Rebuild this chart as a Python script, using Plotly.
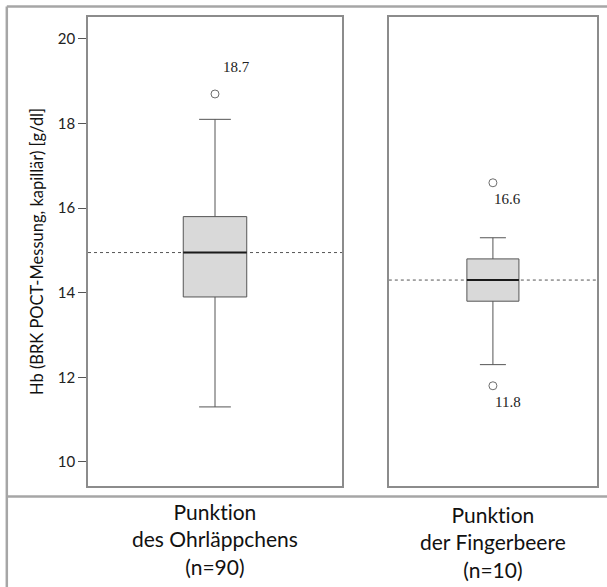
import plotly.graph_objects as go

# ---- data ----
categories = ["Punktion<br>des Ohrläppchens<br>(n=90)", "Punktion<br>der Fingerbeere<br>(n=10)"]
q1 = [13.9, 13.8]
median = [14.95, 14.3]
q3 = [15.8, 14.8]
lower_whisker = [11.3, 12.3]
upper_whisker = [18.1, 15.3]
means = [14.95, 14.3]
outliers = [[18.7], [16.6, 11.8]]
y_title = "Hb (BRK POCT-Messung, kapillär) [g/dl]"
y_ticks = [10, 12, 14, 16, 18, 20]

# ---- style ----
BOX_W = 0.25
Y_RANGE = [9.43, 20.52]
AX_COL = "#8c8c8c"
SANS = "Lato, Carlito, Calibri, sans-serif"
SERIF = "Liberation Serif, Times New Roman, serif"

fig = go.Figure()
xa = ["x", "x2"]
ya = ["y", "y2"]
for i in range(2):
    fig.add_trace(go.Box(
        x=[0], q1=[q1[i]], median=[median[i]], q3=[q3[i]],
        lowerfence=[lower_whisker[i]], upperfence=[upper_whisker[i]],
        width=BOX_W, whiskerwidth=0.5,
        fillcolor="#d9d9d9", line=dict(color="#555555", width=1),
        xaxis=xa[i], yaxis=ya[i], showlegend=False, hoverinfo="skip",
    ))
    fig.add_trace(go.Scatter(
        x=[0] * len(outliers[i]), y=outliers[i], mode="markers",
        marker=dict(symbol="circle-open", size=8, color="#6e6e6e", line=dict(width=1)),
        xaxis=xa[i], yaxis=ya[i], showlegend=False, hoverinfo="skip",
    ))
    # median (thick dark)
    fig.add_shape(type="line", xref=xa[i], yref=ya[i],
                  x0=-BOX_W / 2, x1=BOX_W / 2, y0=median[i], y1=median[i],
                  line=dict(color="#1a1a1a", width=2))
    # mean (dotted across panel)
    fig.add_shape(type="line", xref=xa[i] + " domain", yref=ya[i],
                  x0=0, x1=1, y0=means[i], y1=means[i],
                  line=dict(color="#555555", width=1, dash="dot"), layer="below")
    # outlier labels
    for v in outliers[i]:
        if i == 0:
            xs, ys = 21, 27
        else:
            xs, ys = 15, -16
        fig.add_annotation(x=0, y=v, xref=xa[i], yref=ya[i], text=f"{v:.1f}",
                           showarrow=False, xshift=xs, yshift=ys,
                           font=dict(family=SERIF, size=15, color="#222222"))
    # category labels
    fig.add_annotation(x=0, y=-0.024 - 0.006 * i, xref=xa[i], yref="paper",
                       text=categories[i], showarrow=False, yanchor="top",
                       font=dict(family=SANS, size=21, color="#111111"))

# outer table frame
frame = dict(color="#a6a6a6", width=2.5)
fig.add_shape(type="line", xref="paper", yref="paper", x0=-0.1595, x1=1.02, y0=1.0225, y1=1.0225, line=frame)
fig.add_shape(type="line", xref="paper", yref="paper", x0=-0.1595, x1=-0.1595, y0=1.0225, y1=-0.22, line=frame)
fig.add_shape(type="line", xref="paper", yref="paper", x0=-0.1595, x1=1.02, y0=-0.0224, y1=-0.0224, line=frame)

axis_common = dict(range=[-0.5, 0.5], showgrid=False, zeroline=False, showticklabels=False,
                   ticks="", showline=True, linecolor=AX_COL, linewidth=1.5, mirror=True, fixedrange=True)
fig.update_layout(
    width=607, height=587,
    margin=dict(l=88, r=8, t=17, b=101),
    paper_bgcolor="white", plot_bgcolor="white",
    xaxis=dict(domain=[0, 0.499], anchor="y", **axis_common),
    xaxis2=dict(domain=[0.591, 1], anchor="y2", **axis_common),
    yaxis=dict(range=Y_RANGE, anchor="x", tickvals=y_ticks, ticks="outside", ticklen=8,
               tickcolor="#555555", showline=True, linecolor=AX_COL, linewidth=1.5, mirror=True,
               showgrid=False, zeroline=False,
               tickfont=dict(family=SANS, size=15, color="#222222"),
               title=dict(text=y_title, font=dict(family=SANS, size=16.5, color="#111111"), standoff=10)),
    yaxis2=dict(range=Y_RANGE, anchor="x2", matches="y", showticklabels=False, ticks="",
                showline=True, linecolor=AX_COL, linewidth=1.5, mirror=True,
                showgrid=False, zeroline=False),
)

post = (
    "document.body.style.margin='0px';document.body.style.overflow='hidden';"
    "var s=document.createElement('style');"
    "s.textContent='text{font-variant-ligatures:none;font-feature-settings:\"liga\" 0;}';"
    "document.head.appendChild(s);"
)
fig.write_html("out.html", config={"displayModeBar": False}, post_script=post)
